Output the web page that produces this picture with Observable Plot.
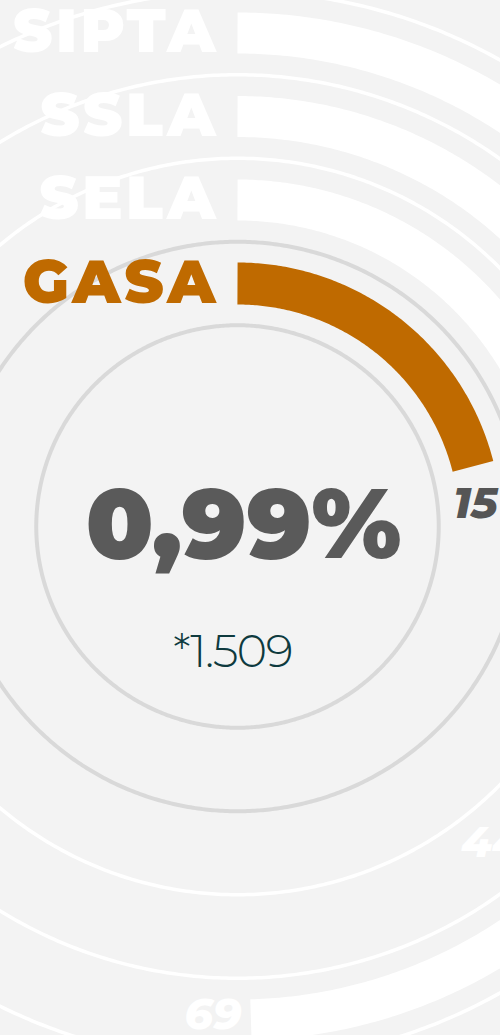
<!DOCTYPE html>
<html><head><meta charset="utf-8">
<script src="https://cdn.jsdelivr.net/npm/d3@7"></script>
<script src="https://cdn.jsdelivr.net/npm/@observablehq/plot@0.6"></script>
<style>html,body{margin:0;padding:0;background:#f3f3f3;overflow:hidden}</style>
</head><body><div id="chart"></div>
<script>
// ---- data ----
const categories = ["SIPTA", "SSLA", "SELA", "GASA"];
const values = [69, 44, 28, 15];
const highlighted = "GASA";
const total = 1509;

// ---- layout ----
const W = 500, H = 1035;
const CX = 237, CY = 526;
const RING0 = 243, RING_STEP = 83.5, BAR = 41;
const PX_PER_UNIT = 23.2;     // arc length along outer edge per unit of value
const LABEL_GAP = 38, LABEL_INSET = 4;
const ORANGE = "#bf6a00";

const locale = d3.formatLocale({decimal: ",", thousands: ".", grouping: [3], currency: ["", ""]});
const hiIdx = categories.indexOf(highlighted);
const shareLabel = locale.format(".2f")(values[hiIdx] / total * 100) + "%";
const totalLabel = "*" + locale.format(",")(total);

const rings = categories.map((c, i) => {
  const k = categories.length - 1 - i;
  const rc = RING0 + k * RING_STEP;
  const rOuter = rc + BAR / 2;
  const end = values[i] * PX_PER_UNIT / rOuter;
  return {cat: c, value: values[i], rc, end, hi: c === highlighted};
});

function arcPts(r, a0, a1, key) {
  const n = Math.max(2, Math.ceil((a1 - a0) * 180 / Math.PI * 2));
  return d3.range(n + 1).map(j => {
    const a = a0 + (a1 - a0) * j / n;
    return {key, x: r * Math.sin(a), y: -r * Math.cos(a)};
  });
}

const barPts = rings.flatMap(d => arcPts(d.rc, 0, d.end, d.cat).map(p => ({...p, hi: d.hi})));
const sepRadii = [];
rings.forEach(d => { sepRadii.push({r: d.rc + RING_STEP / 2, hi: d.hi}); });
const inner = rings[hiIdx];
sepRadii.push({r: inner.rc - RING_STEP / 2, hi: true});
const sepPts = sepRadii.flatMap((s, i) => arcPts(s.r, 0, 2 * Math.PI, "s" + i).map(p => ({...p, hi: s.hi})));

const valueLabels = rings.map(d => {
  const a = d.end + LABEL_GAP / d.rc;
  const r = d.rc - LABEL_INSET;
  return {text: String(d.value), x: r * Math.sin(a), y: -r * Math.cos(a), hi: d.hi};
});
const catLabels = rings.map(d => ({text: d.cat, x: 0, y: -d.rc, hi: d.hi}));

const FONT = "Montserrat, Inter, 'Open Sans', sans-serif";

const chart = Plot.plot({
  width: W, height: H, margin: 0,
  x: {domain: [-CX, W - CX], range: [0, W], axis: null},
  y: {domain: [-CY, H - CY], range: [0, H], axis: null},
  style: {background: "#f3f3f3", fontFamily: FONT},
  marks: [
    Plot.line(sepPts.filter(d => !d.hi), {x: "x", y: "y", z: "key", stroke: "white", strokeWidth: 3.5}),
    Plot.line(sepPts.filter(d => d.hi), {x: "x", y: "y", z: "key", stroke: "#d9d9d9", strokeWidth: 4}),
    Plot.line(barPts.filter(d => !d.hi), {x: "x", y: "y", z: "key", stroke: "white", strokeWidth: BAR, strokeLinecap: "butt", strokeLinejoin: "round"}),
    Plot.line(barPts.filter(d => d.hi), {x: "x", y: "y", z: "key", stroke: ORANGE, strokeWidth: BAR + 1, strokeLinecap: "butt", strokeLinejoin: "round"}),
    Plot.text(catLabels, {x: "x", y: "y", text: "text", textAnchor: "end", dx: -18.5, fontSize: 60, fontWeight: 900, fill: d => d.hi ? ORANGE : "white"}),
    Plot.text(valueLabels, {x: "x", y: "y", text: "text", fontSize: 44, fontWeight: 800, fontStyle: "italic", fill: d => d.hi ? "#555555" : "white"}),
    Plot.text([shareLabel], {x: () => 0, y: () => 0, text: d => d, dx: 6, fontSize: 98, fontWeight: 900, fill: "#5a5a5a"}),
    Plot.text([totalLabel], {x: () => 0, y: () => 0, text: d => d, dx: -5, dy: 126, fontSize: 46, fontWeight: 300, fill: "#0e3a3e"})
  ]
});
// typographic tweaks (letter spacing) on the rendered texts
d3.select(chart).selectAll("text").each(function() {
  const t = this.textContent;
  if (categories.includes(t)) this.style.letterSpacing = "3.5px";
  else if (t === totalLabel) this.style.letterSpacing = "-1.5px";
});
document.getElementById("chart").append(chart);
</script>
</body></html>
